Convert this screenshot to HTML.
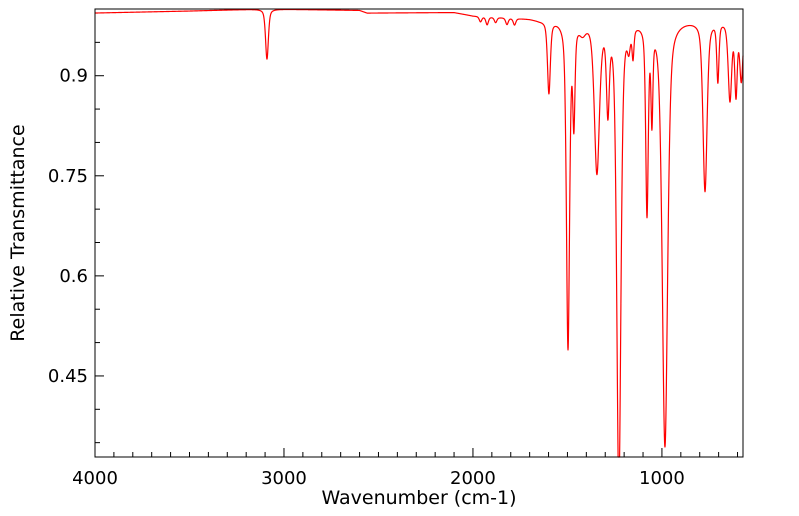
<!DOCTYPE html>
<html><head><meta charset="utf-8"><style>
html,body{margin:0;padding:0;background:#fff;}
svg{display:block;font-family:"DejaVu Sans","Liberation Sans",sans-serif;}
</style></head><body>
<svg id="chart" width="799" height="516">
<rect x="0" y="0" width="799" height="516" fill="#fff"/>
<g id="ticks"></g>
<path id="spec" fill="none" stroke="#ff0000" stroke-width="1.2" stroke-linejoin="round"/>
<rect x="95" y="9" width="648" height="448" fill="none" stroke="#000" stroke-width="1"/>
<text x="419" y="504" font-size="19" text-anchor="middle">Wavenumber (cm-1)</text>
<text transform="translate(24,233) rotate(-90)" font-size="19" text-anchor="middle">Relative Transmittance</text>
</svg>
<script>
const xTicks=[4000,3000,2000,1000];
const yTicks=[0.45,0.6,0.75,0.9];
const yTickLabels=["0.45","0.6","0.75","0.9"];
const baseWn=[4000,3500,3100,2600,2560,2100,2000,1700,1650,1550];
const baseT=[0.994,0.997,1.0,0.998,0.994,0.995,0.99,0.986,0.984,0.985];
const bandCenters=[3090,1960,1925,1880,1820,1780,1598,1497,1466,1420,1344,1286,1228,1175,1153,1079,1053,984,772,704,640,608,580];
const bandDepths=[0.075,0.008,0.012,0.008,0.01,0.01,0.11,0.5,0.15,0.015,0.23,0.13,0.72,0.03,0.045,0.29,0.14,0.65,0.26,0.09,0.12,0.11,0.09];
const bandWidths=[9,8,8,8,8,8,9,10,7,20,16,9,13,9,6,8,6,17,13,7,11,8,10];
const X0=95,X1=743,Y0=9,Y1=457,WMAX=4000,WMIN=571,TMAX=1.0,TMIN=0.3285;
function xs(w){return X0+(WMAX-w)/(WMAX-WMIN)*(X1-X0);}
function ys(t){return Y0+(TMAX-t)/(TMAX-TMIN)*(Y1-Y0);}
function base(w){for(let i=0;i<baseWn.length-1;i++){if(w<=baseWn[i]&&w>=baseWn[i+1]){const f=(baseWn[i]-w)/(baseWn[i]-baseWn[i+1]);return baseT[i]+f*(baseT[i+1]-baseT[i]);}}return baseT[baseT.length-1];}
function prof(u){return 0.5/(1+u*u)+0.5*Math.exp(-0.693*u*u);}
let d="";
for(let w=WMAX;w>=WMIN;w-=1){let t=base(w);for(let i=0;i<bandCenters.length;i++){const u=(w-bandCenters[i])/bandWidths[i];t*=1-bandDepths[i]*prof(u);}
const y=Math.min(Math.max(ys(t),Y0),Y1);d+=(d?"L":"M")+xs(w).toFixed(2)+","+y.toFixed(2);}
document.getElementById('spec').setAttribute('d',d);
const g=document.getElementById('ticks');const NS="http://www.w3.org/2000/svg";
function line(x1,y1,x2,y2,name){const l=document.createElementNS(NS,'line');l.setAttribute('x1',x1);l.setAttribute('y1',y1);l.setAttribute('x2',x2);l.setAttribute('y2',y2);l.setAttribute('stroke','#000');


g.appendChild(l);}
function txt(x,y,s,a,name){const t=document.createElementNS(NS,'text');t.setAttribute('x',x);t.setAttribute('y',y);t.setAttribute('font-size','18');t.setAttribute('text-anchor',a);t.textContent=s;


g.appendChild(t);}
for(let w=4000;w>=WMIN;w-=100){const x=xs(w);const maj=w%1000===0;line(x,Y1,x,Y1-(maj?9:5),maj?'x-major-tick':'x-minor-tick');}
xTicks.forEach(w=>txt(xs(w),484,String(w),'middle','x-tick-label'));
for(let k=0;k<=14;k++){const t=0.35+k*0.05;if(t>TMAX)break;const y=ys(t);const maj=yTicks.some(v=>Math.abs(v-t)<1e-6);line(X0,y,X0+(maj?9:5),y,maj?'y-major-tick':'y-minor-tick');}
yTicks.forEach((t,i)=>txt(88,ys(t)+6,yTickLabels[i],'end','y-tick-label'));
</script>
</body></html>
